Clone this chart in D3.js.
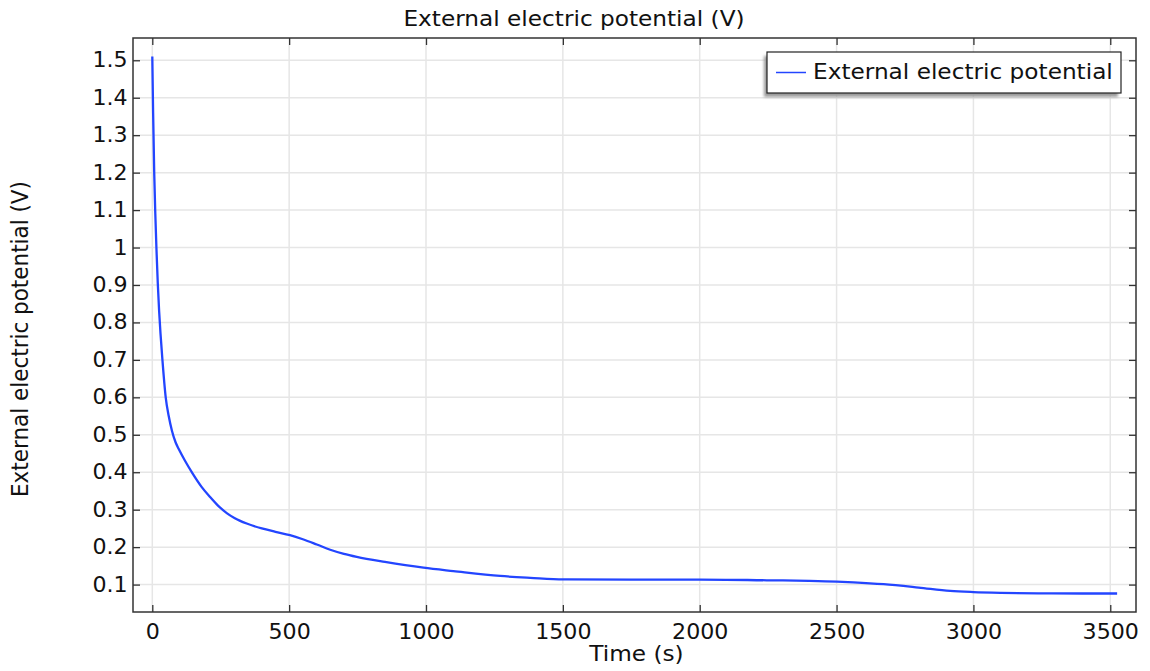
<!DOCTYPE html>
<html>
<head>
<meta charset="utf-8">
<script src="https://cdn.jsdelivr.net/npm/d3@7"></script>
<style>
  html, body { margin: 0; padding: 0; background: #fff; }
  svg { display: block; font-family: "DejaVu Sans", sans-serif; }
</style>
</head>
<body>
<svg id="chart" width="1150" height="671"></svg>
<script>
// Time samples (s) and the external electric potential (V) at each
const timeS = [0, 3, 7, 11, 15, 20, 25, 30, 37, 49, 60, 72, 85, 98, 120, 147, 180, 211, 240, 272,
  300, 345, 400, 450, 503, 550, 601, 650, 700, 747, 850, 991, 1100, 1271, 1381, 1502, 1750, 2001,
  2245, 2400, 2501, 2562, 2672, 2800, 2915, 3000, 3100, 3250, 3400, 3525];
const potentialV = [1.51, 1.36, 1.20, 1.09, 1.00, 0.905, 0.83, 0.77, 0.70, 0.60, 0.55, 0.51, 0.48,
  0.46, 0.43, 0.397, 0.361, 0.334, 0.311, 0.291, 0.278, 0.263, 0.250, 0.241, 0.232, 0.221, 0.207,
  0.193, 0.182, 0.174, 0.1605, 0.145, 0.136, 0.123, 0.118, 0.1137, 0.1135, 0.1135, 0.1115, 0.110, 0.108,
  0.106, 0.101, 0.092, 0.083, 0.080, 0.078, 0.0765, 0.0762, 0.0762];

const xTicks = [0, 500, 1000, 1500, 2000, 2500, 3000, 3500];
const yTicks = [0.1, 0.2, 0.3, 0.4, 0.5, 0.6, 0.7, 0.8, 0.9, 1, 1.1, 1.2, 1.3, 1.4, 1.5];

const titleText = "External electric potential (V)";
const xLabel = "Time (s)";
const yLabel = "External electric potential (V)";
const legendLabel = "External electric potential";

const svg = d3.select("#chart");
const plot = { left: 133, top: 38, right: 1136, bottom: 612 };
const LABEL_FONT = 21.5;
const TICK_FONT = 20.5;
const WIDEN = 1.08;          // glyphs are drawn slightly wide
const lineColor = "#2345ff";

const x = d3.scaleLinear().domain([-70.5, 3594]).range([plot.left, plot.right]);
const y = d3.scaleLinear().domain([0.0268, 1.5595]).range([plot.bottom, plot.top]);

// grid lines
const grid = svg.append("g").attr("stroke", "#e6e6e6").attr("stroke-width", 1.5);
grid.selectAll("line.gx").data(xTicks).join("line")
  .attr("x1", d => x(d)).attr("x2", d => x(d))
  .attr("y1", plot.top).attr("y2", plot.bottom);
grid.selectAll("line.gy").data(yTicks).join("line")
  .attr("y1", d => y(d)).attr("y2", d => y(d))
  .attr("x1", plot.left).attr("x2", plot.right);

// data line
const data = timeS.map((t, i) => [t, potentialV[i]]);
svg.append("path")
  .datum(data)
  .attr("fill", "none")
  .attr("stroke", lineColor)
  .attr("stroke-width", 2.3)
  .attr("stroke-linejoin", "round")
  .attr("d", d3.line().x(d => x(d[0])).y(d => y(d[1])).curve(d3.curveMonotoneX));

// axes: ticks point inward on all four sides
const tickLen = 7;
const axisColor = "#333";
function styleAxis(g) {
  g.selectAll(".domain").remove();
  g.selectAll(".tick line").attr("stroke", axisColor).attr("stroke-width", 1.3);
  g.selectAll(".tick text").attr("fill", "#111").style("font-size", TICK_FONT + "px")
    .style("font-family", "'DejaVu Sans', sans-serif");
}
const xAxisG = svg.append("g").attr("transform", `translate(0,${plot.bottom})`)
  .call(d3.axisBottom(x).tickValues(xTicks).tickSizeInner(-tickLen).tickSizeOuter(0).tickPadding(12).tickFormat(d3.format("d")))
  .call(styleAxis);
xAxisG.selectAll(".tick text").attr("transform", `scale(${WIDEN},1)`);
svg.append("g").attr("transform", `translate(0,${plot.top})`)
  .call(d3.axisTop(x).tickValues(xTicks).tickSizeInner(-tickLen).tickSizeOuter(0).tickFormat(""))
  .call(styleAxis);
const yAxisG = svg.append("g").attr("transform", `translate(${plot.left},0)`)
  .call(d3.axisLeft(y).tickValues(yTicks).tickSizeInner(-tickLen).tickSizeOuter(0).tickPadding(5).tickFormat(d => d3.format("")(+d.toFixed(1))))
  .call(styleAxis);
yAxisG.selectAll(".tick text").attr("transform", `scale(${WIDEN},1)`);
svg.append("g").attr("transform", `translate(${plot.right},0)`)
  .call(d3.axisRight(y).tickValues(yTicks).tickSizeInner(-tickLen).tickSizeOuter(0).tickFormat(""))
  .call(styleAxis);

// frame
svg.append("rect")
  .attr("x", plot.left).attr("y", plot.top)
  .attr("width", plot.right - plot.left).attr("height", plot.bottom - plot.top)
  .attr("fill", "none").attr("stroke", axisColor).attr("stroke-width", 1.5);

// text helper: widened glyphs anchored at (px, py)
function label(px, py, str, anchor) {
  return svg.append("text")
    .attr("transform", `translate(${px},${py}) scale(${WIDEN},1)`)
    .attr("text-anchor", anchor)
    .style("font-size", LABEL_FONT + "px").attr("fill", "#111").text(str);
}
label(574, 25.7, titleText, "middle");
label(636.5, 660.5, xLabel, "middle");
svg.append("text").attr("transform", `translate(28,339) scale(${WIDEN},1) rotate(-90)`)
  .attr("text-anchor", "middle")
  .style("font-size", LABEL_FONT + "px").attr("fill", "#111").text(yLabel);

// legend with soft drop shadow
const defs = svg.append("defs");
defs.append("filter").attr("id", "shadowBlur").attr("x", "-10%").attr("y", "-30%").attr("width", "120%").attr("height", "160%")
  .append("feGaussianBlur").attr("stdDeviation", 1.5);
const lg = { x: 767, y: 52, w: 354, h: 41 };
svg.append("rect").attr("x", lg.x - 3).attr("y", lg.y + 4).attr("width", lg.w).attr("height", lg.h)
  .attr("fill", "#9a9a9a").attr("filter", "url(#shadowBlur)");
svg.append("rect").attr("x", lg.x).attr("y", lg.y).attr("width", lg.w).attr("height", lg.h)
  .attr("fill", "#fff").attr("stroke", "#222").attr("stroke-width", 1.2);
svg.append("line").attr("x1", lg.x + 9).attr("x2", lg.x + 39).attr("y1", lg.y + 20.5).attr("y2", lg.y + 20.5)
  .attr("stroke", lineColor).attr("stroke-width", 1.5);
label(lg.x + 46, lg.y + 27, legendLabel, "start");
</script>
</body>
</html>
